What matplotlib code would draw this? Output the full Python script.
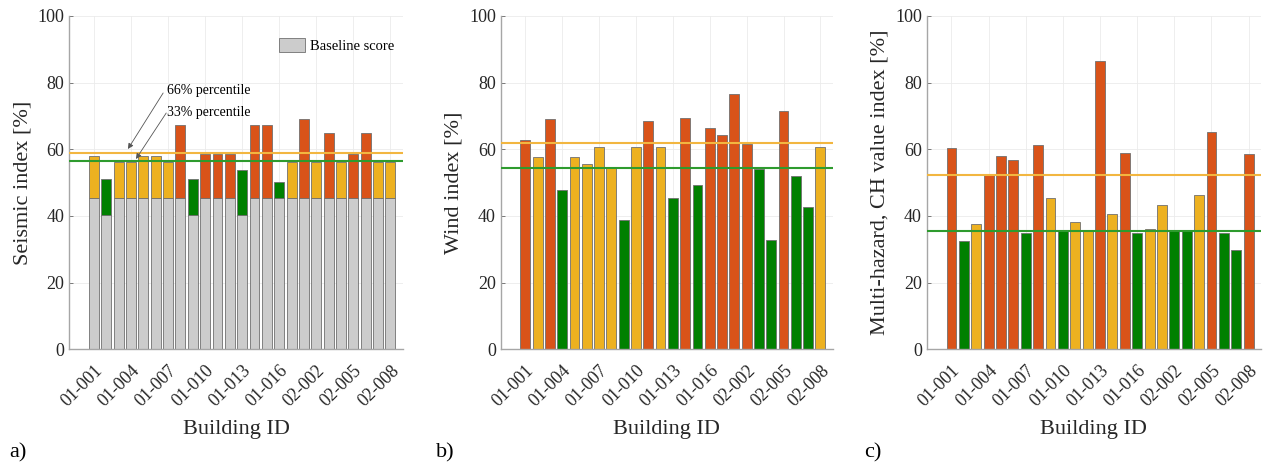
import numpy as np
import matplotlib
matplotlib.use("Agg")
import matplotlib.pyplot as plt
from matplotlib.patches import Patch

plt.rcParams['font.family'] = ['Liberation Serif', 'DejaVu Serif']

ids = ['01-%03d' % i for i in range(1, 18)] + ['02-%03d' % i for i in range(1, 9)]

# panel a: seismic
seis_base = [45.5, 40.3, 45.5, 45.5, 45.5, 45.5, 45.5, 45.5, 40.3, 45.5, 45.5, 45.5, 40.3,
             45.5, 45.5, 45.5, 45.5, 45.5, 45.5, 45.5, 45.5, 45.5, 45.5, 45.5, 45.5]
seis_total = [58.1, 51.2, 56.3, 56.3, 58.1, 58.1, 56.3, 67.3, 51.2, 58.7, 58.7, 58.7, 53.9,
              67.3, 67.3, 50.3, 56.3, 69.0, 56.3, 64.9, 56.3, 58.7, 64.9, 56.3, 56.3]
seis_cls = list('ygyyyyyrgrrrgrrgyryryrryy')
seis_p66, seis_p33 = 58.8, 56.4

# panel b: wind
wind = [62.7, 57.6, 69.2, 47.7, 57.7, 55.5, 60.7, 54.5, 38.8, 60.7, 68.5, 60.7, 45.5,
        69.3, 49.2, 66.3, 64.4, 76.5, 61.7, 54.1, 32.9, 71.4, 52.1, 42.6, 60.7]
wind_cls = list('ryrgyyyygyrygrgrrrrggrggy')
wind_p66, wind_p33 = 61.8, 54.5

# panel c: multi-hazard
multi = [60.4, 32.5, 37.5, 52.2, 57.9, 56.7, 34.8, 61.3, 45.4, 35.7, 38.1, 35.6, 86.4,
         40.7, 59.0, 34.9, 36.1, 43.3, 35.6, 35.6, 46.2, 65.3, 34.9, 29.8, 58.6]
multi_cls = list('rgyrrrgrygyyryrgyyggyrggr')
multi_p66, multi_p33 = 52.3, 35.6

colors = {'r': '#D95319', 'y': '#EDB120', 'g': '#008000'}
line_or = '#F2B640'
line_gr = '#2E9B2E'

W, H = 1264, 469
fig = plt.figure(figsize=(W / 100, H / 100), dpi=100)

lefts = [69.3, 500.7, 926.7]
rights = [402.7, 832.7, 1261]
top_px, bot_px = 16, 349.3

x = np.arange(1, len(ids) + 1)
tick_pos = x[::3]
tick_lab = [ids[i - 1] for i in tick_pos]


def setup(ax, ylabel):
    ax.set_xlim(-1, 26)
    ax.set_ylim(0, 100)
    ax.set_yticks([0, 20, 40, 60, 80, 100])
    ax.set_xticks(tick_pos)
    ax.set_xticklabels(tick_lab, rotation=45, ha='right', va='top',
                       rotation_mode='anchor', fontsize=13, color='#262626')
    ax.tick_params(axis='y', labelsize=13, labelcolor='#262626')
    ax.tick_params(direction='in', length=3, width=0.6, color='#666666')
    ax.tick_params(axis='x', pad=9)
    for s in ['top', 'right']:
        ax.spines[s].set_visible(False)
    for s in ['left', 'bottom']:
        ax.spines[s].set_color('#A6A6A6')
        ax.spines[s].set_linewidth(1.0)
    ax.grid(True, color='#EBEBEB', linewidth=0.6)
    ax.set_axisbelow(True)
    ax.set_ylabel(ylabel, fontsize=16, color='#262626')
    ax.set_xlabel('Building ID', fontsize=16, color='#262626', labelpad=7)


axes = []
for l, r in zip(lefts, rights):
    ax = fig.add_axes([l / W, (H - bot_px) / H, (r - l) / W, (bot_px - top_px) / H])
    axes.append(ax)

edge = '#707070'
bw = 0.8

# a)
ax = axes[0]
seis_top = [t - b for t, b in zip(seis_total, seis_base)]
ax.bar(x, seis_base, width=bw, color='#CCCCCC', edgecolor=edge, linewidth=0.6,
       zorder=2)
ax.bar(x, seis_top, bottom=seis_base, width=bw, color=[colors[c] for c in seis_cls],
       edgecolor=edge, linewidth=0.6, zorder=2)
ax.axhline(seis_p66, color=line_or, linewidth=1.5, zorder=3)
ax.axhline(seis_p33, color=line_gr, linewidth=1.5, zorder=3)
setup(ax, 'Seismic index [%]')
ax.legend(handles=[Patch(facecolor='#CCCCCC', edgecolor=edge, linewidth=0.6,
                         label='Baseline score')],
          loc='upper right', bbox_to_anchor=(1.0, 0.96), frameon=False,
          fontsize=10.5, handlelength=1.8, handleheight=1.1, handletextpad=0.3,
          borderaxespad=0.2)
ax.annotate('', xy=(3.75, 60.1), xytext=(6.6, 76.9),
            arrowprops=dict(arrowstyle='-|>', color='#555555', lw=0.6,
                            mutation_scale=8, shrinkA=0, shrinkB=0), zorder=4)
ax.annotate('', xy=(4.4, 57.1), xytext=(6.85, 70.9),
            arrowprops=dict(arrowstyle='-|>', color='#555555', lw=0.6,
                            mutation_scale=8, shrinkA=0, shrinkB=0), zorder=4)
ax.text(6.9, 77.6, '66% percentile', fontsize=10, va='center', ha='left')
ax.text(6.9, 70.9, '33% percentile', fontsize=10, va='center', ha='left')

# b)
ax = axes[1]
ax.bar(x, wind, width=bw, color=[colors[c] for c in wind_cls], edgecolor=edge,
       linewidth=0.6, zorder=2)
ax.axhline(wind_p66, color=line_or, linewidth=1.5, zorder=3)
ax.axhline(wind_p33, color=line_gr, linewidth=1.5, zorder=3)
setup(ax, 'Wind index [%]')

# c)
ax = axes[2]
ax.bar(x, multi, width=bw, color=[colors[c] for c in multi_cls], edgecolor=edge,
       linewidth=0.6, zorder=2)
ax.axhline(multi_p66, color=line_or, linewidth=1.5, zorder=3)
ax.axhline(multi_p33, color=line_gr, linewidth=1.5, zorder=3)
setup(ax, 'Multi-hazard, CH value index [%]')

for lab, px in zip(['a)', 'b)', 'c)'], [9, 436, 864]):
    fig.text(px / W, 1 - 453 / H, lab, fontsize=16, va='center', ha='left')

fig.savefig('out.png', dpi=100)
